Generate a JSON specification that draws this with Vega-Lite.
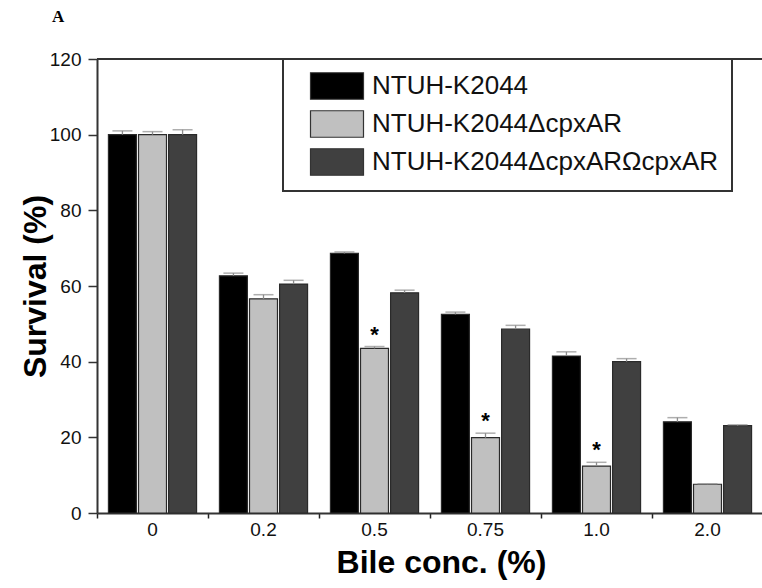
{
  "$schema": "https://vega.github.io/schema/vega-lite/v6.json",
  "width": 666,
  "height": 454,
  "autosize": "none",
  "padding": {"left": 97, "top": 59, "right": 0, "bottom": 75},
  "background": "white",
  "config": {"view": {"stroke": null}, "font": "Liberation Sans", "legend": {"strokeWidth": 2}},
  "title": {"text": "A", "anchor": "start", "frame": "group", "font": "Liberation Serif", "fontSize": 17, "fontWeight": "bold", "color": "#000", "dx": -45, "offset": 24},
  "data": {"values": [
    {"conc": "0", "strain": "NTUH-K2044", "mean": 100.0, "upper": 101.0, "sig": ""},
    {"conc": "0", "strain": "NTUH-K2044ΔcpxAR", "mean": 100.0, "upper": 100.8, "sig": ""},
    {"conc": "0", "strain": "NTUH-K2044ΔcpxARΩcpxAR", "mean": 100.0, "upper": 101.3, "sig": ""},
    {"conc": "0.2", "strain": "NTUH-K2044", "mean": 62.7, "upper": 63.4, "sig": ""},
    {"conc": "0.2", "strain": "NTUH-K2044ΔcpxAR", "mean": 56.6, "upper": 57.7, "sig": ""},
    {"conc": "0.2", "strain": "NTUH-K2044ΔcpxARΩcpxAR", "mean": 60.5, "upper": 61.5, "sig": ""},
    {"conc": "0.5", "strain": "NTUH-K2044", "mean": 68.6, "upper": 69.0, "sig": ""},
    {"conc": "0.5", "strain": "NTUH-K2044ΔcpxAR", "mean": 43.5, "upper": 44.0, "sig": "*"},
    {"conc": "0.5", "strain": "NTUH-K2044ΔcpxARΩcpxAR", "mean": 58.2, "upper": 58.9, "sig": ""},
    {"conc": "0.75", "strain": "NTUH-K2044", "mean": 52.5, "upper": 53.1, "sig": ""},
    {"conc": "0.75", "strain": "NTUH-K2044ΔcpxAR", "mean": 19.9, "upper": 21.1, "sig": "*"},
    {"conc": "0.75", "strain": "NTUH-K2044ΔcpxARΩcpxAR", "mean": 48.6, "upper": 49.6, "sig": ""},
    {"conc": "1.0", "strain": "NTUH-K2044", "mean": 41.5, "upper": 42.6, "sig": ""},
    {"conc": "1.0", "strain": "NTUH-K2044ΔcpxAR", "mean": 12.4, "upper": 13.4, "sig": "*"},
    {"conc": "1.0", "strain": "NTUH-K2044ΔcpxARΩcpxAR", "mean": 40.0, "upper": 40.8, "sig": ""},
    {"conc": "2.0", "strain": "NTUH-K2044", "mean": 24.1, "upper": 25.2, "sig": ""},
    {"conc": "2.0", "strain": "NTUH-K2044ΔcpxAR", "mean": 7.6, "upper": 7.7, "sig": ""},
    {"conc": "2.0", "strain": "NTUH-K2044ΔcpxARΩcpxAR", "mean": 23.1, "upper": 23.3, "sig": ""}
  ]},
  "layer": [
    {
      "mark": {"type": "bar", "stroke": "#2a2a2a", "strokeWidth": 1.2},
      "encoding": {
        "x": {"field": "conc", "type": "nominal", "sort": ["0", "0.2", "0.5", "0.75", "1.0", "2.0"],
          "scale": {"paddingInner": 0, "paddingOuter": 0},
          "axis": {"title": "Bile conc. (%)", "titleFontSize": 32, "titleFontWeight": "bold", "titleColor": "#000", "titlePadding": 8, "titleX": 344,
            "labelAngle": 0, "labelFontSize": 19, "labelColor": "#111", "bandPosition": 0, "labelOffset": 0, "labelPadding": 2,
            "tickSize": 5, "tickColor": "#222", "tickWidth": 1.5, "domainColor": "#333", "domainWidth": 2}},
        "xOffset": {"field": "strain", "sort": ["NTUH-K2044", "NTUH-K2044ΔcpxAR", "NTUH-K2044ΔcpxARΩcpxAR"], "scale": {"paddingInner": 0.07, "paddingOuter": 0.38}},
        "y": {"field": "mean", "type": "quantitative", "scale": {"domain": [0, 120], "nice": false},
          "axis": {"title": "Survival (%)", "titleFontSize": 32, "titleFontWeight": "bold", "titleColor": "#000", "titlePadding": -3,
            "values": [0, 10, 20, 30, 40, 50, 60, 70, 80, 90, 100, 110, 120],
            "labelExpr": "datum.value % 20 == 0 ? datum.label : ''",
            "tickSize": {"condition": {"test": "datum.value % 20 != 0", "value": 4}, "value": 9},
            "labelPadding": 7, "labelFontSize": 19, "labelColor": "#111", "labelOverlap": false,
            "domainColor": "#333", "domainWidth": 2, "tickColor": "#333", "tickWidth": 1.5, "grid": false}},
        "color": {"field": "strain", "type": "nominal",
          "scale": {"domain": ["NTUH-K2044", "NTUH-K2044ΔcpxAR", "NTUH-K2044ΔcpxARΩcpxAR"], "range": ["#000000", "#c0c0c0", "#404040"]},
          "legend": {"orient": "none", "legendX": 186, "legendY": 0, "title": null, "fillColor": "white", "strokeColor": "#333",
            "padding": 13, "symbolOffset": 27, "symbolType": "M-2,-1H2V1H-2Z", "symbolSize": 702, "symbolStrokeColor": "#333", "symbolStrokeWidth": 1.2,
            "labelFontSize": 26, "labelOffset": 21, "rowPadding": 6, "labelColor": "#111", "labelLimit": 600}}
      }
    },
    {
      "mark": {"type": "rule", "color": "#8c8c8c", "strokeWidth": 1.3},
      "encoding": {
        "x": {"field": "conc", "type": "nominal", "sort": ["0", "0.2", "0.5", "0.75", "1.0", "2.0"]},
        "xOffset": {"field": "strain", "sort": ["NTUH-K2044", "NTUH-K2044ΔcpxAR", "NTUH-K2044ΔcpxARΩcpxAR"]},
        "y": {"field": "mean", "type": "quantitative"},
        "y2": {"field": "upper"}
      }
    },
    {
      "mark": {"type": "tick", "color": "#8c8c8c", "thickness": 1.5, "size": 20},
      "encoding": {
        "x": {"field": "conc", "type": "nominal", "sort": ["0", "0.2", "0.5", "0.75", "1.0", "2.0"]},
        "xOffset": {"field": "strain", "sort": ["NTUH-K2044", "NTUH-K2044ΔcpxAR", "NTUH-K2044ΔcpxARΩcpxAR"]},
        "y": {"field": "upper", "type": "quantitative"}
      }
    },
    {
      "transform": [{"filter": "datum.sig != ''"}],
      "mark": {"type": "text", "fontSize": 22, "fontWeight": "bold", "dy": -5, "baseline": "alphabetic", "color": "#000"},
      "encoding": {
        "x": {"field": "conc", "type": "nominal", "sort": ["0", "0.2", "0.5", "0.75", "1.0", "2.0"]},
        "xOffset": {"field": "strain", "sort": ["NTUH-K2044", "NTUH-K2044ΔcpxAR", "NTUH-K2044ΔcpxARΩcpxAR"]},
        "y": {"field": "upper", "type": "quantitative"},
        "text": {"field": "sig"}
      }
    },
    {
      "mark": {"type": "rule", "color": "#333", "strokeWidth": 2},
      "encoding": {"y": {"datum": 120}}
    }
  ]
}
